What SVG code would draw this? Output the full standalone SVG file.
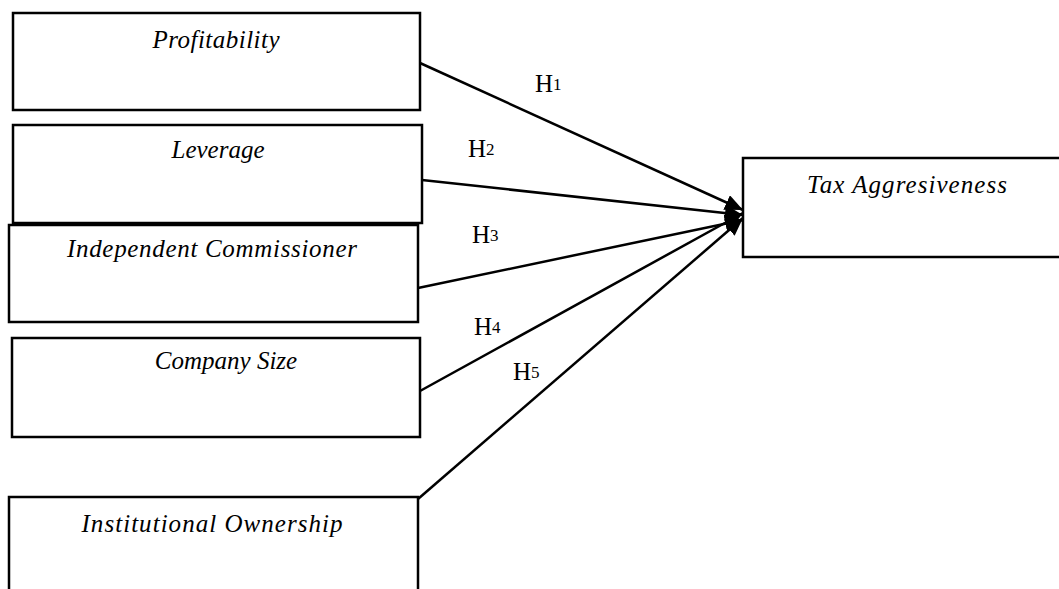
<svg xmlns="http://www.w3.org/2000/svg" width="1059" height="589" viewBox="0 0 1059 589">
<style>
.box{fill:#fff;stroke:#000;stroke-width:2.5}
.lbl{font-family:"Liberation Serif","Times New Roman",serif;font-style:italic;font-size:25px;fill:#000;text-anchor:middle}
.h{font-family:"Liberation Serif","Times New Roman",serif;font-size:25px;fill:#000}
.h tspan{font-size:17px}
.con line{stroke:#000;stroke-width:2.5;marker-end:url(#ah)}
</style>
<defs>
<marker id="ah" markerUnits="userSpaceOnUse" markerWidth="20" markerHeight="16" refX="18" refY="8" orient="auto">
<path d="M0,0 L18,8 L0,16 Z" fill="#000"/>
</marker>
</defs>
<rect width="1059" height="589" fill="#fff"/>
<g id="n-profitability">
<rect class="box" x="13" y="13" width="407" height="97"/>
<text class="lbl" x="216" y="48" textLength="127">Profitability</text>
</g>
<g id="n-leverage">
<rect class="box" x="13" y="125" width="409" height="98"/>
<text class="lbl" x="218" y="158">Leverage</text>
</g>
<g id="n-independent">
<rect class="box" x="9" y="225" width="409" height="97"/>
<text class="lbl" x="212" y="257" textLength="290">Independent Commissioner</text>
</g>
<g id="n-size">
<rect class="box" x="12" y="338" width="408" height="99"/>
<text class="lbl" x="226" y="369">Company Size</text>
</g>
<g id="n-institutional">
<rect class="box" x="9" y="497" width="409" height="100"/>
<text class="lbl" x="212" y="532" textLength="261">Institutional Ownership</text>
</g>
<g id="n-tax">
<rect class="box" x="743" y="158" width="330" height="99"/>
<text class="lbl" x="907" y="193" textLength="200">Tax Aggresiveness</text>
</g>
<g id="connectors" class="con">
<line x1="420" y1="63" x2="743" y2="210"/>
<line x1="422" y1="180" x2="743" y2="215"/>
<line x1="418" y1="288" x2="743" y2="220"/>
<line x1="420" y1="391" x2="743" y2="213"/>
<line x1="418" y1="499" x2="743" y2="218"/>
</g>
<g id="labels">
<text class="h" x="535" y="92">H<tspan dy="-2">1</tspan></text>
<text class="h" x="468" y="157">H<tspan dy="-2">2</tspan></text>
<text class="h" x="472" y="243">H<tspan dy="-2">3</tspan></text>
<text class="h" x="474" y="335">H<tspan dy="-2">4</tspan></text>
<text class="h" x="513" y="380">H<tspan dy="-2">5</tspan></text>
</g>
</svg>
